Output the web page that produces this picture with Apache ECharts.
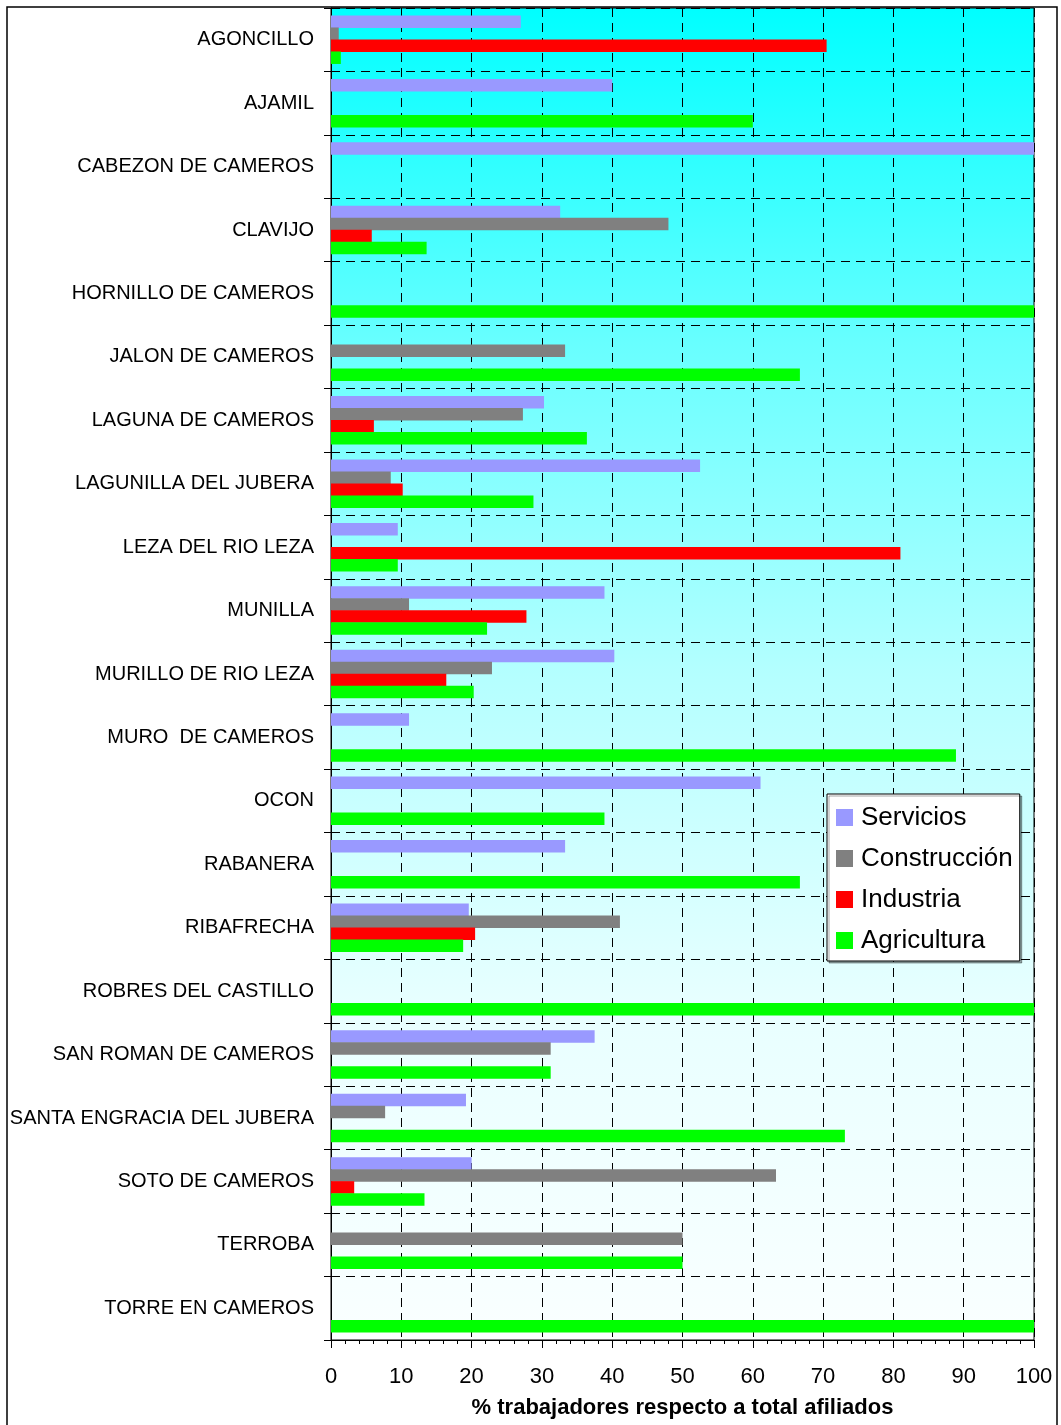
<!DOCTYPE html>
<html>
<head>
<meta charset="utf-8">
<script src="https://cdn.jsdelivr.net/npm/echarts@6/dist/echarts.min.js"></script>
<style>
  html, body { margin: 0; padding: 0; background: #ffffff; }
  #chart { width: 1061px; height: 1425px; }
</style>
</head>
<body>
<div id="chart"></div>
<script>
// municipios, de arriba abajo
const categories = [
  'AGONCILLO', 'AJAMIL', 'CABEZON DE CAMEROS', 'CLAVIJO', 'HORNILLO DE CAMEROS',
  'JALON DE CAMEROS', 'LAGUNA DE CAMEROS', 'LAGUNILLA DEL JUBERA', 'LEZA DEL RIO LEZA',
  'MUNILLA', 'MURILLO DE RIO LEZA', 'MURO  DE CAMEROS', 'OCON', 'RABANERA', 'RIBAFRECHA',
  'ROBRES DEL CASTILLO', 'SAN ROMAN DE CAMEROS', 'SANTA ENGRACIA DEL JUBERA',
  'SOTO DE CAMEROS', 'TERROBA', 'TORRE EN CAMEROS'
];

// % trabajadores por sector
const servicios    = [27.0, 40.0, 100, 32.6, 0, 0, 30.3, 52.5, 9.5, 38.9, 40.3, 11.1, 61.1, 33.3, 19.6, 0, 37.5, 19.2, 20.0, 0, 0];
const construccion = [1.1, 0, 0, 48.0, 0, 33.3, 27.3, 8.5, 0, 11.1, 22.9, 0, 0, 0, 41.1, 0, 31.25, 7.7, 63.3, 50, 0];
const industria    = [70.5, 0, 0, 5.8, 0, 0, 6.1, 10.2, 81.0, 27.8, 16.4, 0, 0, 0, 20.5, 0, 0, 0, 3.3, 0, 0];
const agricultura  = [1.4, 60.0, 0, 13.6, 100, 66.7, 36.4, 28.8, 9.5, 22.2, 20.3, 88.9, 38.9, 66.7, 18.8, 100, 31.25, 73.1, 13.3, 50, 100];

const seriesNames = ['Servicios', 'Construcción', 'Industria', 'Agricultura'];
const seriesColors = ['#9999FF', '#808080', '#FF0000', '#00FF00'];
const seriesData = [servicios, construccion, industria, agricultura];

const fontFamily = '"Liberation Sans", Arial, sans-serif';

const plotBg = new echarts.graphic.LinearGradient(0, 0, 0, 1, [
  { offset: 0, color: '#00FFFF' },
  { offset: 0.25, color: '#67FFFF' },
  { offset: 0.5, color: '#B4FFFF' },
  { offset: 0.75, color: '#E8FFFF' },
  { offset: 1, color: '#FAFFFF' }
]);

const dashed = { color: '#000', width: 1, type: [9, 6] };

const chart = echarts.init(document.getElementById('chart'), null, { renderer: 'canvas' });

chart.setOption({
  animation: false,
  textStyle: { fontFamily: fontFamily },
  graphic: [{
    type: 'rect',
    shape: { x: 7, y: 7, width: 1050, height: 1440 },
    style: { fill: 'none', stroke: '#000', lineWidth: 1.5 },
    silent: true,
    z: -1
  }],
  grid: {
    left: 331,
    right: 27,
    top: 8,
    bottom: 85,
    show: true,
    backgroundColor: plotBg,
    borderColor: '#000',
    borderWidth: 1
  },
  legend: {
    data: seriesNames,
    orient: 'vertical',
    left: 827,
    top: 794,
    itemWidth: 17,
    itemHeight: 17,
    itemGap: 12,
    padding: [9, 7, 6, 9],
    backgroundColor: '#ffffff',
    borderColor: '#000',
    borderWidth: 1,
    shadowColor: 'rgba(0,0,0,0.35)',
    shadowOffsetX: 2,
    shadowOffsetY: 2,
    icon: 'rect',
    textStyle: {
      fontSize: 26,
      lineHeight: 29,
      color: '#000',
      fontFamily: fontFamily,
      padding: [0, 0, 0, 3]
    }
  },
  xAxis: {
    type: 'value',
    min: 0,
    max: 100,
    interval: 10,
    name: '% trabajadores respecto a total afiliados',
    nameLocation: 'middle',
    nameGap: 57,
    nameTextStyle: {
      fontSize: 22,
      fontWeight: 'bold',
      color: '#000',
      fontFamily: fontFamily
    },
    axisLine: { show: true, lineStyle: { color: '#000', width: 1 } },
    axisTick: { show: true, length: 8, lineStyle: { color: '#000' } },
    minorTick: { show: true, splitNumber: 5, length: 4, lineStyle: { color: '#000' } },
    axisLabel: { fontSize: 22, color: '#000', margin: 26, fontFamily: fontFamily },
    splitLine: { show: true, lineStyle: dashed }
  },
  yAxis: {
    type: 'category',
    data: categories,
    inverse: true,
    axisLine: { show: true, lineStyle: { color: '#000', width: 1 } },
    axisTick: { show: true, length: 7, lineStyle: { color: '#000' } },
    axisLabel: { fontSize: 20, color: '#000', margin: 17, fontFamily: fontFamily },
    splitLine: { show: true, lineStyle: dashed }
  },
  series: seriesNames.map((name, i) => ({
    name: name,
    type: 'bar',
    data: seriesData[i],
    barWidth: 12.5,
    barGap: '-4%',
    itemStyle: { color: seriesColors[i] }
  }))
});
</script>
</body>
</html>
